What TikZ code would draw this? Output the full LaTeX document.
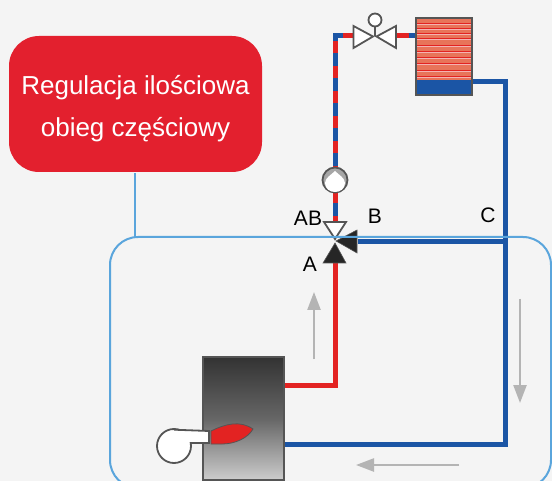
\documentclass[tikz,border=0pt]{standalone}
\usepackage{fontspec}
\setmainfont{Liberation Sans}
\usetikzlibrary{arrows.meta}
\definecolor{bgc}{HTML}{F4F4F4}
\definecolor{redbox}{HTML}{E3202E}
\definecolor{lineblue}{HTML}{5AA5DC}
\definecolor{pipeblue}{HTML}{1B55A5}
\definecolor{pipered}{HTML}{E32322}
\definecolor{outl}{HTML}{555555}
\definecolor{arrowgrey}{HTML}{B4B4B4}
\definecolor{salmon}{HTML}{E8745A}
\tikzset{
  x=1pt,y=-1pt,
  bluepipe/.style={draw=pipeblue,line width=5pt,line join=miter},
  redpipe/.style={draw=pipered,line width=5pt,line join=miter},
  mixpipe/.style={draw=pipered,line width=5pt,postaction={draw=pipeblue,line width=5pt,dash pattern=on 12.5pt off 12.5pt,dash phase=12.5pt}},
  guide/.style={draw=lineblue,line width=2pt},
  flowarrow/.style={draw=arrowgrey,line width=2.4pt,-{Triangle[length=18pt,width=13pt]}},
  lbl/.style={font=\fontsize{21}{24}\selectfont,text=black,inner sep=0pt},
  valvepart/.style={draw=outl,line width=1.8pt,fill=white,line join=miter},
  blackpart/.style={draw=outl,line width=.6pt,fill=black!85},
}
\begin{document}
\begin{tikzpicture}
\useasboundingbox (0,0) rectangle (552,481);
\fill[bgc] (0,0) rectangle (552,481);
\begin{scope}
\clip (0,0) rectangle (552,481);
\node[inner sep=0pt,minimum size=0pt] (frameanchor) at (135,237) {};
\node[inner sep=0pt,minimum size=0pt] (boxanchor) at (135,173) {};
% pipes
\coordinate (bo1) at (285,385); \coordinate (bo2) at (285,444);
\coordinate (vb) at (358,242);
\draw[redpipe] (bo1) -- (335,385) -- (335,262);
\draw[bluepipe] (bo2) -- (505,444) -- (505,82) -- (470,82);
\draw[bluepipe] (505,242) -- (vb);
\draw[mixpipe] (355,36) -- (335,36) -- (335,222);
\draw[mixpipe] (396,36) -- (416,36);
% heat exchanger
\fill[salmon] (416,18) rectangle (472,80);
\foreach \yy in {23,28,33,38,45,51,57,63,70,76}{
  \draw[pipered,line width=.8pt] (416,\yy) -- (472,\yy);
  \draw[white!65!pipered,line width=.8pt] (416,\yy+1.5) -- (472,\yy+1.5);
}
\fill[pipeblue] (416,80) rectangle (472,95);
\draw[outl,line width=1.6pt] (416,18) rectangle (472,95);
% valve
\draw[valvepart] (375,36) -- (375,20);
\draw[valvepart] (375,20) circle (6.5);
\draw[valvepart] (353.5,26) -- (353.5,48) -- (373,36.5) -- cycle;
\draw[valvepart] (396,26) -- (396,48) -- (376.5,36.5) -- cycle;
% pump
\draw[outl,line width=1.8pt,fill=black!35] (335,180) circle (12.5);
\fill[white] (335,171) .. controls (339,175) and (345,178) .. (345,183) .. controls (345,195) and (325,195) .. (325,183) .. controls (325,178) and (331,175) .. (335,171) -- cycle;
% boiler
\shade[top color=black!80,bottom color=black!20,middle color=black!60] (203,357) rectangle (284,480);
\draw[outl,line width=1.2pt] (203,357) rectangle (284,480);
% burner
\draw[outl,line width=1.8pt,fill=white] (174,446) circle (17);
\fill[white] (174,431) rectangle (208.4,442.4);
\draw[outl,line width=1.8pt] (174,429.7) -- (209,431) -- (209,443) -- (191,443);
% flame
\draw[outl,line width=.8pt,fill=pipered] (211,431) .. controls (225,424) and (240,420) .. (253,429) .. controls (248,438) and (235,444) .. (222,444) -- (211,444) -- cycle;
% mixing valve
\draw[valvepart] (324,222) -- (346,222) -- (335,239) -- cycle;
\draw[blackpart] (357,230) -- (357,253) -- (336,241) -- cycle;
\draw[blackpart] (323,263) -- (346,263) -- (335,243) -- cycle;
% guide frame
\draw[guide,rounded corners=28pt] (300,488) -- (110,488) -- (110,237) -- (551,237) -- (551,488) -- cycle;
\draw[guide] (boxanchor) -- (frameanchor);
% flow arrows
\draw[flowarrow] (314,359) -- (314,292);
\draw[flowarrow] (520,299) -- (520,403);
\draw[flowarrow] (459,465) -- (356,465);
% labels
\node[lbl] (la) at (310,264) {A};
\node[lbl] (lab) at (308,218) {AB};
\node[lbl] (lb) at (375,216) {B};
\node[lbl] (lc) at (488,215) {C};
% red box
\node[fill=redbox,rounded corners=30pt,minimum width=253pt,minimum height=136pt,inner sep=0pt,align=center,text=white,font=\fontsize{26}{42}\selectfont] (title) at (135.5,104) {\rule{0pt}{28pt}Regulacja ilościowa\\obieg częściowy};
\end{scope}
\end{tikzpicture}
\end{document}
